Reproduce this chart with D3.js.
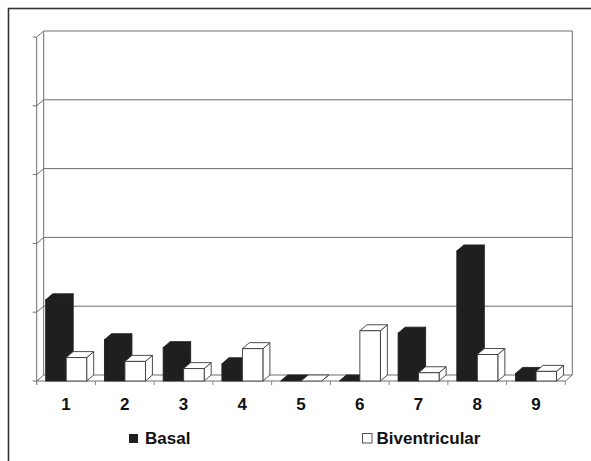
<!DOCTYPE html>
<html>
<head>
<meta charset="utf-8">
<script src="https://cdn.jsdelivr.net/npm/d3@7"></script>
<style>
  html, body { margin: 0; padding: 0; background: #fff; }
  svg { display: block; }
  text { font-family: "Liberation Sans", Arial, sans-serif; font-weight: bold; fill: #111; }
</style>
</head>
<body>
<script>
// ---- data ----
const categories = ["1", "2", "3", "4", "5", "6", "7", "8", "9"];
const seriesNames = ["Basal", "Biventricular"];
const basal = [11.8, 6.0, 4.85, 2.5, 0, 0, 6.95, 18.9, 1.1];
const biventricular = [3.4, 2.85, 1.8, 4.7, 0, 7.3, 1.2, 3.85, 1.4];
const yTicks = [0, 10, 20, 30, 40, 50];

// ---- layout ----
const W = 591, H = 461;
const depthX = 7, depthY = -6;
const x0 = 36.7, x1 = 565.3;   // front floor edge
const yBase = 381, yTop = 37;  // front axis range

const svg = d3.select("body").append("svg").attr("width", W).attr("height", H);

// outer frame
svg.append("rect").attr("x", 8.5).attr("y", 8.5).attr("width", 640).attr("height", 520)
  .attr("fill", "none").attr("stroke", "#333").attr("stroke-width", 1.6);

const x = d3.scaleBand().domain(categories).range([x0, x1]).paddingInner(0).paddingOuter(0);
const xs = d3.scaleBand().domain(seriesNames).range([9, 50]);
const y = d3.scaleLinear().domain([0, 50]).range([yBase, yTop]);

const gridColor = "#6f6f6f";
const g = svg.append("g");

// back wall gridlines
yTicks.forEach(t => {
  const yy = y(t) + depthY;
  g.append("line").attr("x1", x0 + depthX).attr("x2", x1 + depthX)
    .attr("y1", yy).attr("y2", yy).attr("stroke", gridColor).attr("stroke-width", 1);
  // side wall slant
  g.append("line").attr("x1", x0).attr("y1", y(t)).attr("x2", x0 + depthX).attr("y2", yy)
    .attr("stroke", gridColor).attr("stroke-width", 1);
  // tick
  g.append("line").attr("x1", x0 - 4).attr("x2", x0).attr("y1", y(t)).attr("y2", y(t))
    .attr("stroke", gridColor).attr("stroke-width", 1);
});

// walls verticals
g.append("line").attr("x1", x0 + depthX).attr("x2", x0 + depthX)
  .attr("y1", y(50) + depthY).attr("y2", y(0) + depthY).attr("stroke", gridColor);
g.append("line").attr("x1", x1 + depthX).attr("x2", x1 + depthX)
  .attr("y1", y(50) + depthY).attr("y2", y(0) + depthY).attr("stroke", gridColor);
// front axis
g.append("line").attr("x1", x0).attr("x2", x0).attr("y1", y(50)).attr("y2", y(0) + 4)
  .attr("stroke", gridColor);
// floor
g.append("line").attr("x1", x0).attr("x2", x1).attr("y1", yBase).attr("y2", yBase).attr("stroke", gridColor);
g.append("line").attr("x1", x1).attr("y1", yBase).attr("x2", x1 + depthX).attr("y2", yBase + depthY).attr("stroke", gridColor);
// category ticks
categories.concat(["end"]).forEach((c, i) => {
  const xx = i < categories.length ? x(c) : x1;
  g.append("line").attr("x1", xx).attr("x2", xx).attr("y1", yBase).attr("y2", yBase + 4)
    .attr("stroke", "#888").attr("stroke-width", 1);
});

// bars
function bar3d(parent, bx, bw, v, fill, stroke) {
  const yt = y(v), yb = y(0);
  const gg = parent.append("g");
  // side
  gg.append("polygon").attr("points", [
    [bx + bw, yt], [bx + bw + depthX, yt + depthY], [bx + bw + depthX, yb + depthY], [bx + bw, yb]
  ].map(p => p.join(",")).join(" ")).attr("fill", fill).attr("stroke", stroke).attr("stroke-width", 0.9).attr("stroke-linejoin", "round");
  // top
  gg.append("polygon").attr("points", [
    [bx, yt], [bx + depthX, yt + depthY], [bx + bw + depthX, yt + depthY], [bx + bw, yt]
  ].map(p => p.join(",")).join(" ")).attr("fill", fill).attr("stroke", stroke).attr("stroke-width", 0.9).attr("stroke-linejoin", "round");
  // front
  if (v > 0) {
    gg.append("rect").attr("x", bx).attr("y", yt).attr("width", bw).attr("height", yb - yt)
      .attr("fill", fill).attr("stroke", stroke).attr("stroke-width", 0.9);
  }
}

const bars = svg.append("g");
categories.forEach((c, i) => {
  bar3d(bars, x(c) + xs("Basal"), xs.bandwidth(), basal[i], "#1f1f1f", "#1f1f1f");
  bar3d(bars, x(c) + xs("Biventricular"), xs.bandwidth(), biventricular[i], "#ffffff", "#3a3a3a");
});

// category labels
svg.append("g").selectAll("text").data(categories).join("text")
  .attr("x", d => x(d) + x.bandwidth() / 2)
  .attr("y", 409.5)
  .attr("text-anchor", "middle")
  .attr("font-size", 17)
  .text(d => d);

// legend
const leg = svg.append("g");
leg.append("rect").attr("x", 129).attr("y", 434).attr("width", 9).attr("height", 9).attr("fill", "#1f1f1f");
leg.append("text").attr("x", 145).attr("y", 443.5).attr("font-size", 17).text("Basal");
leg.append("rect").attr("x", 362.5).attr("y", 433.5).attr("width", 9.5).attr("height", 9.5)
  .attr("fill", "#fff").attr("stroke", "#555").attr("stroke-width", 1);
leg.append("text").attr("x", 376.5).attr("y", 443.5).attr("font-size", 17).text("Biventricular");
</script>
</body>
</html>
